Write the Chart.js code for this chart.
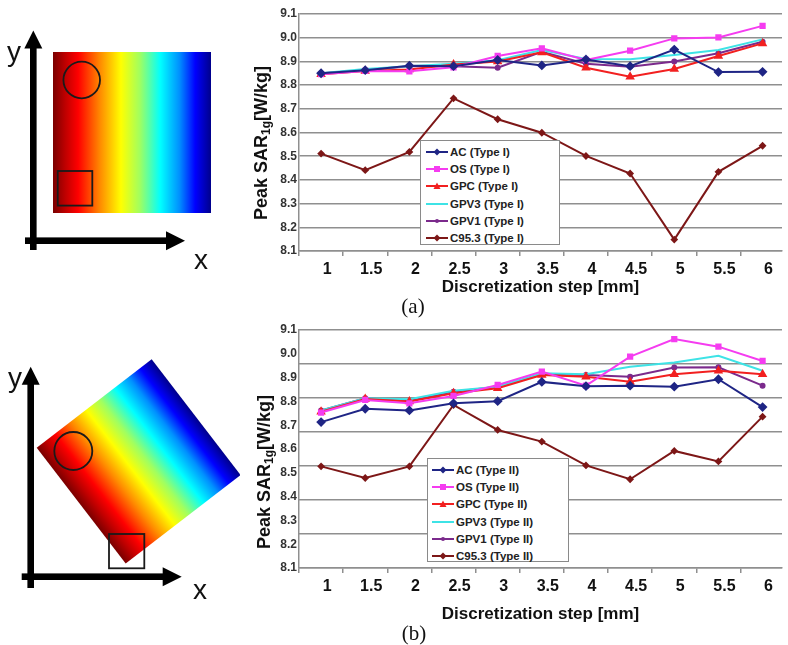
<!DOCTYPE html>
<html>
<head>
<meta charset="utf-8">
<script src="https://cdn.jsdelivr.net/npm/chart.js@4.4.1/dist/chart.umd.min.js"></script>
<style>
  html, body { margin: 0; padding: 0; background: #fff; }
  #page { position: relative; width: 788px; height: 645px; overflow: hidden; font-family: "Liberation Sans", Arial, sans-serif; }
  .abs { position: absolute; }
  .ytitle { position: absolute; font-weight: bold; font-size: 18px; color: #111; white-space: nowrap; transform: translate(-50%, -50%) rotate(-90deg); }
  .ytitle sub { font-size: 12px; vertical-align: -3px; }
  .legend { position: absolute; background: #fff; border: 1px solid #8a8a8a; box-sizing: border-box; padding-top: 2px; }
  .legend .row { height: 17.3px; display: flex; align-items: center; font: bold 11.5px "Liberation Sans", Arial, sans-serif; color: #222; white-space: nowrap; }
  .legend svg { margin-right: 2px; }
  .letter { position: absolute; font-size: 28px; line-height: 28px; color: #111; }
  .caption { position: absolute; font-family: "Liberation Serif", serif; font-size: 21px; color: #111; transform: translate(-50%, -50%); }
</style>
</head>
<body>
<div id="page">
  <canvas id="sketch" class="abs" width="240" height="645" style="left:0;top:0"></canvas>
  <span class="letter" style="left:7px;top:38px">y</span>
  <span class="letter" style="left:194px;top:246px">x</span>
  <span class="letter" style="left:8px;top:364px">y</span>
  <span class="letter" style="left:193px;top:576px">x</span>

  <canvas id="chartTypeI" class="abs" width="548" height="300" style="left:240px;top:0"></canvas>
  <canvas id="chartTypeII" class="abs" width="548" height="310" style="left:240px;top:320px"></canvas>

  <div class="ytitle" style="left:262px;top:143px">Peak SAR<sub>1g</sub>[W/kg]</div>
  <div class="ytitle" style="left:265px;top:472px">Peak SAR<sub>1g</sub>[W/kg]</div>

  <div id="legendTypeI" class="legend" style="left:420px;top:140px;width:140px;height:105px;padding-left:5px"></div>
  <div id="legendTypeII" class="legend" style="left:427px;top:458px;width:142px;height:104px;padding-left:4px"></div>

  <div class="caption" style="left:413px;top:306px">(a)</div>
  <div class="caption" style="left:414px;top:633px">(b)</div>
</div>

<script>
// --- data ---
const steps = [1, 1.5, 2, 2.5, 3, 3.5, 4, 4.5, 5, 5.5, 6];
const seriesNames = ['AC', 'OS', 'GPC', 'GPV3', 'GPV1', 'C95.3'];
const yTicksTypeI = [8.1, 8.2, 8.3, 8.4, 8.5, 8.6, 8.7, 8.8, 8.9, 9.0, 9.1];

// Type I
const acTypeI   = [8.850, 8.863, 8.882, 8.880, 8.906, 8.883, 8.908, 8.880, 8.950, 8.855, 8.856];
const osTypeI   = [8.846, 8.860, 8.858, 8.875, 8.923, 8.955, 8.906, 8.945, 8.997, 9.001, 9.050];
const gpcTypeI  = [8.846, 8.860, 8.866, 8.887, 8.900, 8.938, 8.873, 8.835, 8.868, 8.923, 8.976];
const gpv3TypeI = [8.850, 8.868, 8.880, 8.890, 8.905, 8.948, 8.910, 8.909, 8.927, 8.948, 8.993];
const gpv1TypeI = [8.850, 8.863, 8.880, 8.880, 8.873, 8.940, 8.890, 8.877, 8.900, 8.934, 8.983];
const c953TypeI = [8.511, 8.441, 8.518, 8.744, 8.656, 8.599, 8.501, 8.427, 8.148, 8.434, 8.544];

// Type II
const acTypeII   = [8.713, 8.769, 8.762, 8.792, 8.801, 8.882, 8.864, 8.866, 8.862, 8.893, 8.776];
const osTypeII   = [8.753, 8.806, 8.792, 8.823, 8.869, 8.925, 8.866, 8.988, 9.062, 9.030, 8.970];
const gpcTypeII  = [8.757, 8.810, 8.800, 8.834, 8.855, 8.911, 8.904, 8.883, 8.914, 8.929, 8.914];
const gpv3TypeII = [8.762, 8.813, 8.809, 8.845, 8.862, 8.918, 8.914, 8.946, 8.963, 8.992, 8.929];
const gpv1TypeII = [8.762, 8.813, 8.802, 8.841, 8.862, 8.914, 8.911, 8.904, 8.942, 8.943, 8.866];
const c953TypeII = [8.527, 8.478, 8.527, 8.785, 8.680, 8.631, 8.531, 8.473, 8.592, 8.548, 8.736];

// line look per series (same order as seriesNames)
const seriesLook = [
  { color: '#1f2585', style: 'rectRot',  radius: 3.5 },
  { color: '#f53cf0', style: 'rect',     radius: 3 },
  { color: '#f22020', style: 'triangle', radius: 3.5 },
  { color: '#3ee3e6', style: 'circle',   radius: 0 },
  { color: '#7b2a8c', style: 'circle',   radius: 2 },
  { color: '#7d1717', style: 'rectRot',  radius: 2.5 }
];

const gridGray = '#8f8f8f';
const fontFamily = '"Liberation Sans", Arial, sans-serif';

function makeDatasets(seriesList, suffix) {
  return seriesList.map((values, i) => ({
    label: `${seriesNames[i]} (${suffix})`,
    data: steps.map((s, k) => ({ x: s, y: values[k] })),
    borderColor: seriesLook[i].color,
    backgroundColor: seriesLook[i].color,
    borderWidth: 2,
    pointStyle: seriesLook[i].style,
    pointRadius: seriesLook[i].radius,
    tension: 0,
    yAxisID: 'y'
  }));
}

function makeScales(withOddGrid, titlePadBottom) {
  const scales = {
    x: {
      type: 'linear',
      min: 0.75,
      max: 6.22,
      afterBuildTicks: (scale) => { scale.ticks = steps.map(v => ({ value: v })); },
      afterFit: (scale) => { scale.height = withOddGrid ? 62 : 49; },
      ticks: {
        callback: (v) => String(v),
        font: { family: fontFamily, size: 16, weight: 'bold' },
        color: '#111',
        padding: 4,
        labelOffset: 6,
        maxRotation: 0,
        autoSkip: false
      },
      grid: { offset: true, drawOnChartArea: false, drawTicks: true, tickLength: 5, color: gridGray, lineWidth: 1.5 },
      border: { display: true, color: gridGray, width: 1.5 },
      title: {
        display: true,
        text: 'Discretization step [mm]',
        font: { family: fontFamily, size: 17, weight: 'bold' },
        color: '#111',
        padding: { top: 0, bottom: titlePadBottom }
      }
    },
    y: {
      min: 8.1,
      max: 9.1,
      afterBuildTicks: (scale) => { scale.ticks = yTicksTypeI.map(v => ({ value: v })); },
      afterFit: (scale) => { scale.width = 59; },
      ticks: {
        callback: (v) => Number(v).toFixed(1),
        font: { family: fontFamily, size: 12, weight: 'bold' },
        color: '#333',
        padding: 2
      },
      grid: { display: !withOddGrid, drawTicks: false, color: gridGray, lineWidth: 1.5 },
      border: { display: true, color: gridGray, width: 1.5 }
    }
  };
  if (withOddGrid) {
    // 아래 그림의 격자선은 눈금 라벨과 어긋나 있어서 별도 축으로 그림
    scales.yGrid = {
      position: 'left',
      min: 0,
      max: 7,
      ticks: { display: false, stepSize: 1 },
      afterFit: (scale) => { scale.width = 0; },
      grid: { drawTicks: false, color: gridGray, lineWidth: 1.5 },
      border: { display: false }
    };
  }
  return scales;
}

function buildChart(canvasId, datasets, withOddGrid, topPad, titlePadBottom) {
  return new Chart(document.getElementById(canvasId).getContext('2d'), {
    type: 'line',
    data: { datasets: datasets },
    options: {
      responsive: false,
      animation: false,
      layout: { padding: { top: topPad, left: 0, right: 0, bottom: 0 } },
      plugins: { legend: { display: false }, tooltip: { enabled: false } },
      scales: makeScales(withOddGrid, titlePadBottom)
    }
  });
}

/**
 * HTML legend (placed inside the plot like the original)
 */
function markerSvg(look) {
  const c = look.color;
  let marker = '';
  if (look.radius > 0) {
    if (look.style === 'rectRot') marker = `<polygon points="11,1.5 14.5,5 11,8.5 7.5,5" fill="${c}"/>`;
    else if (look.style === 'rect') marker = `<rect x="8" y="2" width="6" height="6" fill="${c}"/>`;
    else if (look.style === 'triangle') marker = `<polygon points="11,1.5 14.5,8 7.5,8" fill="${c}"/>`;
    else marker = `<circle cx="11" cy="5" r="2" fill="${c}"/>`;
  }
  return `<svg width="22" height="10"><line x1="0" y1="5" x2="22" y2="5" stroke="${c}" stroke-width="2"/>${marker}</svg>`;
}

function renderLegend(elId, chart) {
  const el = document.getElementById(elId);
  el.innerHTML = '';
  chart.data.datasets.forEach((ds, i) => {
    const row = document.createElement('div');
    row.className = 'row';
    row.innerHTML = markerSvg(seriesLook[i]) + `<span>${ds.label}</span>`;
    el.appendChild(row);
  });
}

/**
 * Left-hand sketches: field gradient with circle / square probes
 */
function jetGradient(ctx, x0, y0, x1, y1) {
  const g = ctx.createLinearGradient(x0, y0, x1, y1);
  g.addColorStop(0.00, '#7a0000');
  g.addColorStop(0.08, '#c00000');
  g.addColorStop(0.16, '#ff0000');
  g.addColorStop(0.30, '#ff8c00');
  g.addColorStop(0.43, '#ffff00');
  g.addColorStop(0.55, '#a0ff60');
  g.addColorStop(0.68, '#00ffff');
  g.addColorStop(0.80, '#0090ff');
  g.addColorStop(0.90, '#0000ff');
  g.addColorStop(1.00, '#00008b');
  return g;
}

function drawAxes(ctx, ox, oy, yTop, xRight, yBottom, xLeft) {
  ctx.fillStyle = '#000';
  // vertical arrow
  ctx.fillRect(ox - 3.3, yTop + 17, 6.6, yBottom - yTop - 17);
  ctx.beginPath();
  ctx.moveTo(ox, yTop);
  ctx.lineTo(ox + 9, yTop + 18);
  ctx.lineTo(ox - 9, yTop + 18);
  ctx.closePath();
  ctx.fill();
  // horizontal arrow
  ctx.fillRect(xLeft, oy - 3.3, xRight - 18 - xLeft, 6.6);
  ctx.beginPath();
  ctx.moveTo(xRight, oy);
  ctx.lineTo(xRight - 19, oy - 9.5);
  ctx.lineTo(xRight - 19, oy + 9.5);
  ctx.closePath();
  ctx.fill();
}

function drawSketches() {
  const ctx = document.getElementById('sketch').getContext('2d');

  // (a) straight block
  ctx.fillStyle = jetGradient(ctx, 53, 0, 211, 0);
  ctx.fillRect(53, 52, 158, 161);
  ctx.strokeStyle = '#1a1a1a';
  ctx.lineWidth = 1.8;
  ctx.beginPath();
  ctx.arc(81.7, 80, 18.3, 0, Math.PI * 2);
  ctx.stroke();
  ctx.strokeRect(57.7, 171, 34.6, 34.6);
  drawAxes(ctx, 33.3, 240.7, 30.5, 185, 250, 25);

  // (b) rotated block
  const angle = Math.atan2(-88.4, 115);
  ctx.save();
  ctx.translate(36.7, 447.7);
  ctx.rotate(angle);
  ctx.fillStyle = jetGradient(ctx, 0, 0, 145, 0);
  ctx.fillRect(0, 0, 145, 146);
  ctx.restore();
  ctx.strokeStyle = '#1a1a1a';
  ctx.lineWidth = 1.8;
  ctx.beginPath();
  ctx.arc(73.3, 451, 19, 0, Math.PI * 2);
  ctx.stroke();
  ctx.strokeRect(109, 534, 35.3, 34.3);
  drawAxes(ctx, 30.7, 576.7, 366.7, 181.7, 588, 21.7);
}

// --- build everything ---
const chartTypeI = buildChart('chartTypeI',
  makeDatasets([acTypeI, osTypeI, gpcTypeI, gpv3TypeI, gpv1TypeI, c953TypeI], 'Type I'),
  false, 14, 2);
const chartTypeII = buildChart('chartTypeII',
  makeDatasets([acTypeII, osTypeII, gpcTypeII, gpv3TypeII, gpv1TypeII, c953TypeII], 'Type II'),
  true, 10, 5);

renderLegend('legendTypeI', chartTypeI);
renderLegend('legendTypeII', chartTypeII);
drawSketches();
</script>
</body>
</html>
